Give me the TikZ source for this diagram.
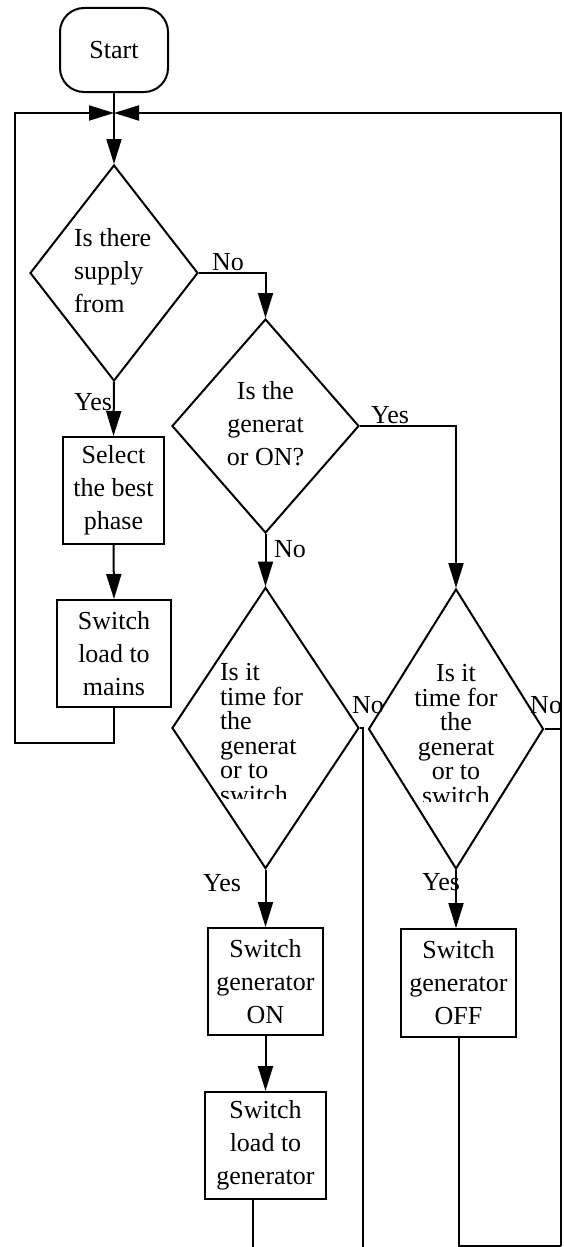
\documentclass[tikz,border=0pt]{standalone}
\usepackage{fontspec}
\setmainfont{Liberation Serif}
\usetikzlibrary{positioning, arrows.meta, shapes.geometric}

\begin{document}
\begin{tikzpicture}[
  x=1pt, y=-1pt,
  font=\fontsize{26}{33}\selectfont,
  line width=2pt,
  flow/.style={-{Triangle[length=25pt,width=15pt]}},
  term/.style={
    rectangle, rounded corners=24pt, draw,
    minimum width=108pt, minimum height=84pt, inner sep=0pt,
  },
  proc/.style={rectangle, draw, inner sep=0pt, align=center, minimum height=107pt},
  dec/.style={diamond, draw, inner sep=0pt},
  qtext/.style={inner sep=0pt},
  tight/.style={font=\fontsize{26}{24.6}\selectfont},
  lbl/.style={inner sep=0pt},
]
\clip (0,0) rectangle (564,1247);

% left column
\node[term] (start) at (114,50) {Start};
\coordinate (J) at (114,113);
\node[dec, minimum width=168pt, minimum height=216pt] (q1) at (114,273) {};
\node[qtext, align=left, anchor=west] (q1txt) at (73,271) {Is there\\supply\\from};
\node[proc, minimum width=101pt] (sel) at (113.5,490.5) {Select\\the best\\phase};
\node[proc, minimum width=114pt] (mains) at (114,653.5) {Switch\\load to\\mains};

% middle column
\node[dec, minimum width=187pt, minimum height=214pt] (q2) at (265.5,426) {};
\node[qtext, align=center] (q2txt) at (265.5,424) {Is the\\generat\\or ON?};
\node[dec, minimum width=187pt, minimum height=281pt] (q3) at (265.5,728) {};
\node[proc, minimum width=115pt] (on) at (265.5,981.5) {Switch\\generator\\ON};
\node[proc, minimum width=121pt] (gen) at (265.5,1145.5) {Switch\\load to\\generator};

% right column
\node[dec, minimum width=175pt, minimum height=280pt] (q4) at (456,729) {};
\node[proc, minimum width=115pt, minimum height=108pt] (off) at (458.5,983) {Switch\\generator\\OFF};

% question texts cut off at the bottom
\begin{scope}
  \clip (170,600) rectangle (360,798);
  \node[qtext, tight, align=left, anchor=west] (q3txt) at (219,733.5)
    {Is it\\time for\\the\\generat\\or to\\switch};
\end{scope}
\begin{scope}
  \clip (370,600) rectangle (545,801);
  \node[qtext, tight, align=center] (q4txt) at (456,734.5)
    {Is it\\time for\\the\\generat\\or to\\switch};
\end{scope}

% loose ends
\coordinate (rb) at (561,1246);
\coordinate (q3end) at (363,1250);
\coordinate (genend) at (253,1250);

% connectors
\draw[flow] (start.south) -- (q1.north);
\draw[flow] (q1.south) -- (sel.north);
\draw[flow] (sel.south) -- (mains.north);
\draw[flow] (mains.south) |- (15,743) |- (J);
\draw[flow] (q1.east) -| (q2.north);
\draw[flow] (q2.south) -- (q3.north);
\draw[flow] (q2.east) -| (q4.north);
\draw[flow] (q3.south) -- (on.north);
\draw[flow] (on.south) -- (gen.north);
\draw[flow] (q4.south) -- (q4.south |- off.north);
\draw (q3.east) -| (q3end);
\draw (gen.south -| genend) -- (genend);
\draw (q4.east) -- (q4.east -| rb);
\draw (off.south) |- (rb);
\draw[flow] (rb) |- (J);

% branch labels
\node[lbl] (l1no) at (228,262) {No};
\node[lbl] (l1yes) at (93,402) {Yes};
\node[lbl] (l2yes) at (390,415) {Yes};
\node[lbl] (l2no) at (290,549) {No};
\node[lbl] (l3no) at (368,705) {No};
\node[lbl] (l3yes) at (222,883) {Yes};
\node[lbl, anchor=east] (l4no) at (563,705) {No};
\node[lbl] (l4yes) at (441,882) {Yes};

\end{tikzpicture}
\end{document}
